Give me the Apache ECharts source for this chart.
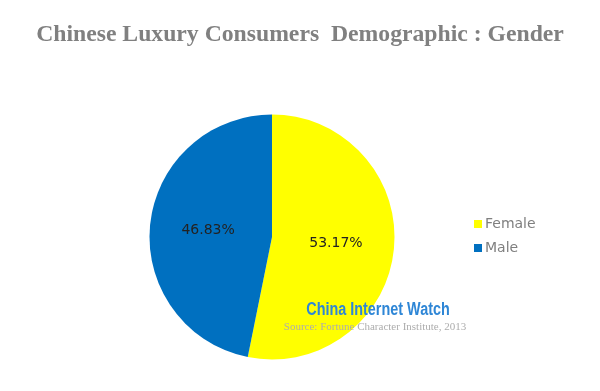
<!DOCTYPE html>
<html><head><meta charset="utf-8">
<script src="https://cdn.jsdelivr.net/npm/echarts@6/dist/echarts.min.js"></script>
<style>html,body{margin:0;padding:0;background:#fff}#c{width:600px;height:391px}</style>
</head><body><div id="c"></div>
<script>
const categories = ["Female", "Male"];
const values = [53.17, 46.83];
const colors = ["#FFFF00", "#0070C0"];

const chart = echarts.init(document.getElementById('c'), null, {renderer: 'canvas'});
chart.setOption({
  animation: false,
  backgroundColor: '#fff',
  title: {
    text: 'Chinese Luxury Consumers  Demographic : Gender',
    left: 'center', top: 18,
    textStyle: {fontFamily: 'Liberation Serif', fontWeight: 'bold', fontSize: 23.7, color: '#808080'}
  },
  legend: {
    orient: 'vertical', left: 469, top: 212,
    itemWidth: 8, itemHeight: 8, itemGap: 10, icon: 'rect',
    data: categories,
    textStyle: {fontFamily: 'DejaVu Sans', fontSize: 14, color: '#7f7f7f', padding: [0,0,0,-2]}
  },
  series: [{
    type: 'pie',
    center: [272, 237], radius: [0, 122.5],
    startAngle: 90, clockwise: true,
    data: categories.map((n, i) => ({name: n, value: values[i], itemStyle: {color: colors[i]}})),
    label: {
      show: true, position: 'inner',
      formatter: p => p.value.toFixed(2) + '%',
      fontFamily: 'DejaVu Sans', fontSize: 14, color: '#222'
    },
    labelLine: {show: false},
    emphasis: {disabled: true}
  }],
  graphic: [
    {type: 'text', z: 100, x: 378, y: 310, scaleX: 0.8, style: {text: 'China Internet Watch', font: 'bold 18px "Liberation Sans"', fill: '#2E86D6', align: 'center', verticalAlign: 'middle'}},
    {type: 'text', z: 100, x: 375, y: 327, style: {text: 'Source: Fortune Character Institute, 2013', font: '11px "Liberation Serif"', fill: '#adadad', align: 'center', verticalAlign: 'middle'}}
  ]
});
</script></body></html>
